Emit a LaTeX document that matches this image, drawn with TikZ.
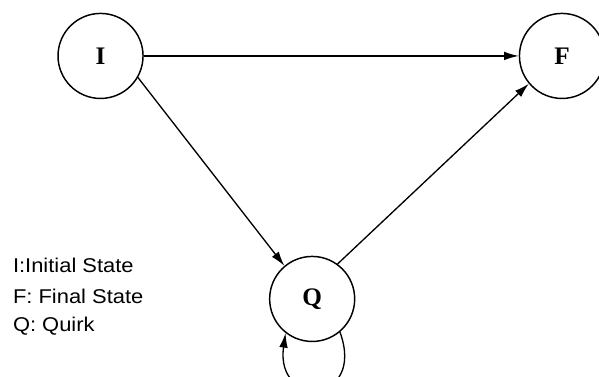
\documentclass[tikz,border=0pt]{standalone}
\usepackage{fontspec}
\setmainfont{Liberation Serif}
\newfontfamily\legendfont[FakeStretch=1.1]{Liberation Sans}
\usetikzlibrary{arrows.meta}

\tikzset{
  state/.style={circle, draw, line width=1.1pt, minimum size=2.25cm, inner sep=0pt,
    font=\fontsize{19}{19}\selectfont\bfseries},
  legendtext/.style={anchor=base west, font=\fontsize{15}{18}\selectfont\legendfont},
}

\begin{document}
\begin{tikzpicture}[>={Latex[length=11pt,width=6.5pt]}, line width=1pt]
       % \draw[help lines] (0, 0) grid (16, -10);
       \useasboundingbox (0, 0) rectangle (15.85, -9.975);
       \node [state] (I) at (2.66, -1.48) {I};
       \node [state] (F) at (14.87, -1.48) {F};
       \node [state] (Q) at (8.26, -7.91) {Q};
       \draw [->] (I) -- (F);
       \draw [->] (I.-30) -- (Q.130);
       \draw [->] (Q.54) -- (F.220);
       \draw [->] (Q.-50) to[out=-70, in=-98, looseness=3.6] (Q.-128);
       \node [legendtext] (initial) at (0.21, -7.20) {I:Initial State};
       \node [legendtext] (final) at (0.21, -8.02) {F: Final State};
       \node [legendtext] (quirk) at (0.21, -8.78) {Q: Quirk};
   \end{tikzpicture}
\end{document}
